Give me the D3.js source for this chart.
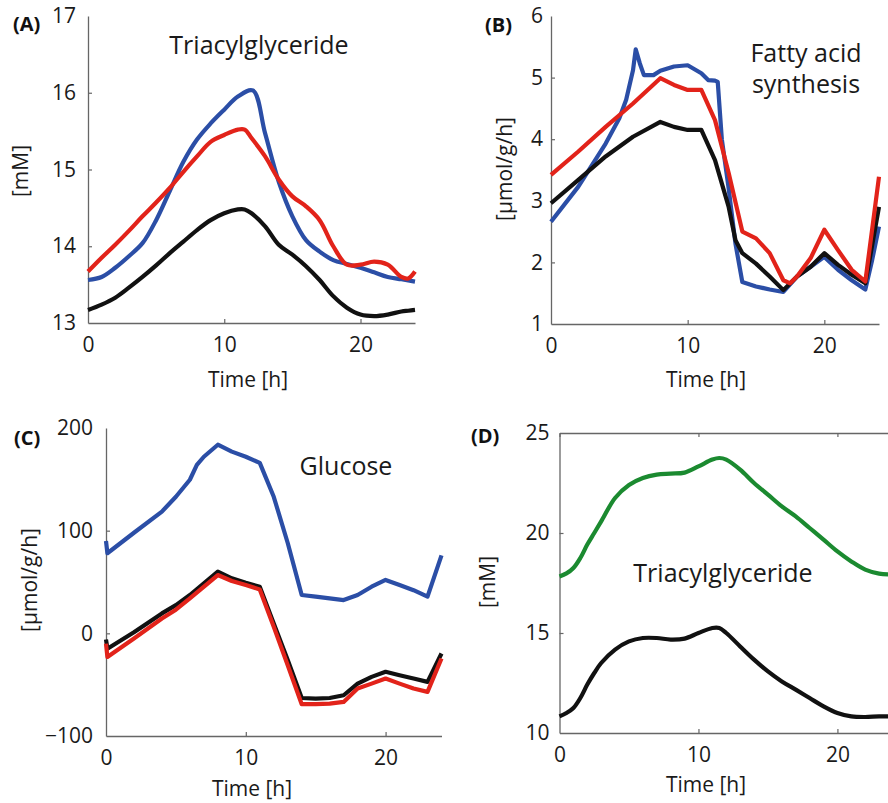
<!DOCTYPE html>
<html lang="en">
<head>
<meta charset="UTF-8">
<title>Circadian lipid panels</title>
<script src="https://d3js.org/d3.v7.min.js"></script>
<style>
  html, body { margin: 0; padding: 0; background: #fff; }
  svg { display: block; font-family: "Open Sans", sans-serif; }
</style>
</head>
<body>
<div id="chart"></div>
<script>
// ---- data ----
var xTicks = [0, 10, 20];

// (A) Triacylglyceride [mM]
var tA_blue = [0,1,2,3,4,5,6,7,8,9,10,11,12.1,13,14,15,16,17,18,19,20,21,22,23,24];
var vA_blue = [13.56,13.6,13.72,13.87,14.04,14.34,14.72,15.1,15.39,15.6,15.78,15.95,16.03,15.47,14.84,14.39,14.08,13.93,13.82,13.77,13.72,13.66,13.6,13.57,13.54];
var tA = [0,1,2,3,4,5,6,7,8,9,10,11,11.5,12,13,14,15,16,17,18,19,20,21,22,23,23.5,24];
var vA_red = [13.67,13.85,14.02,14.2,14.39,14.57,14.76,14.97,15.17,15.36,15.45,15.52,15.52,15.41,15.17,14.87,14.65,14.52,14.34,14.0,13.76,13.76,13.8,13.76,13.6,13.58,13.67];
var vA_black = [13.17,13.24,13.33,13.46,13.6,13.75,13.91,14.06,14.21,14.34,14.43,14.48,14.48,14.43,14.26,14.02,13.89,13.74,13.56,13.35,13.2,13.11,13.09,13.11,13.15,13.16,13.17];
var yTicksA = [13, 14, 15, 16, 17];

// (B) Fatty acid synthesis [umol/g/h]
var tB_blue = [0,2,4,5,5.5,6,6.2,6.5,6.8,7.5,8,9,10,11,11.5,12,12.2,12.5,13,13.5,14,15,16,17,18,19,20,21,22,23,23.5,24];
var vB_blue = [2.66,3.23,3.93,4.34,4.64,5.12,5.46,5.23,5.04,5.04,5.11,5.18,5.2,5.07,4.96,4.95,4.93,4.0,3.2,2.3,1.68,1.61,1.56,1.52,1.77,1.93,2.09,1.88,1.71,1.56,2.04,2.58];
var tB_red = [0,2,4,6,8,9,10,11,12,13,14,15,16,17,17.5,18,19,20,21,22,23,24];
var vB_red = [3.42,3.8,4.2,4.58,4.99,4.88,4.8,4.8,4.31,3.45,2.5,2.39,2.15,1.71,1.66,1.77,2.07,2.53,2.2,1.88,1.69,3.39];
var tB_black = [0,2,4,6,8,9,10,11,12,13,13.5,14,15,16,17,18,19,20,21,22,23,24];
var vB_black = [2.96,3.34,3.72,4.04,4.28,4.2,4.15,4.15,3.66,2.9,2.36,2.15,1.98,1.77,1.55,1.77,1.93,2.15,1.96,1.8,1.66,2.9];
var yTicksB = [1, 2, 3, 4, 5, 6];

// (C) Glucose [umol/g/h]
var tC_blue = [0,0.1,2,4,5,6,6.5,7,8,9,10,11,12,13,14,15,16,17,18,19,20,21,22,23,24];
var vC_blue = [90,78,98,118.6,133,149.6,164,172,183.7,177,172,166,133,88,37.3,35.7,34,32.4,37.3,45.4,52,47,42,35.7,76];
var tC = [0,0.1,2,4,5,6,8,9,10,11,12,13,14,15,16,17,18,19,20,21,22,23,24];
var vC_black = [-6,-15,1,19.4,27.5,37.3,60,53.6,49.3,45.4,9.6,-26,-63,-63.6,-63,-60.3,-49,-42.4,-37.5,-40.8,-44,-47.3,-19.6];
var vC_red = [-10,-23,-5,14.5,23,34,56.8,51,47,42.8,6.4,-31,-69,-69,-68.5,-66.8,-53.8,-49,-44,-49,-53.8,-57,-24.5];
var yTicksC = [-100, 0, 100, 200];

// (D) Triacylglyceride [mM]
var tD = [0,0.5,1,1.5,2,2.5,3,4,5,6,7,8,9,10,11,11.5,12,13,14,15,16,17,18,19,20,21,22,23,24];
var vD_green = [17.83,17.98,18.25,18.75,19.42,20.0,20.58,21.75,22.4,22.75,22.92,22.97,23.02,23.33,23.67,23.75,23.67,23.17,22.5,21.92,21.33,20.83,20.25,19.67,19.08,18.58,18.17,17.97,17.92];
var vD_black = [10.83,11.0,11.25,11.75,12.42,13.0,13.5,14.17,14.58,14.75,14.75,14.67,14.72,15.0,15.25,15.25,15.0,14.33,13.67,13.08,12.58,12.17,11.75,11.33,11.0,10.83,10.8,10.83,10.83];
var yTicksD = [10, 15, 20, 25];

var colors = { blue: '#2b4ea6', red: '#e2231a', black: '#111111', green: '#1b8a30' };

// ---- layout ----
var W = 888, H = 803;
var svg = d3.select('#chart').append('svg')
  .attr('width', W)
  .attr('height', H);

var panels = [
  { tag: '(A)', tagX: 13, tagY: 31, x0: 88, x1: 415, y0: 323, y1: 16, dom: [13, 17], ticks: yTicksA, pad: 12,
    ylabel: '[mM]', ylx: 20, yly: 171, xlx: 248, xly: 387, smooth: true,
    title: ['Triacylglyceride'], titleX: 259, titleY: 54,
    series: [[tA_blue, vA_blue, 'blue'], [tA, vA_black, 'black'], [tA, vA_red, 'red']] },
  { tag: '(B)', tagX: 485, tagY: 32, x0: 551, x1: 879, y0: 324, y1: 16, dom: [1, 6], ticks: yTicksB, pad: 8,
    ylabel: '[\u03bcmol/g/h]', ylx: 504, yly: 169, xlx: 706, xly: 387, smooth: false,
    title: ['Fatty acid', 'synthesis'], titleX: 806, titleY: 62,
    series: [[tB_blue, vB_blue, 'blue'], [tB_black, vB_black, 'black'], [tB_red, vB_red, 'red']] },
  { tag: '(C)', tagX: 14, tagY: 445, x0: 106, x1: 441.5, y0: 736, y1: 428, dom: [-100, 200], ticks: yTicksC, pad: 13,
    ylabel: '[\u03bcmol/g/h]', ylx: 29, yly: 580, xlx: 252, xly: 796, smooth: false,
    title: ['Glucose'], titleX: 346, titleY: 475,
    series: [[tC_blue, vC_blue, 'blue'], [tC, vC_black, 'black'], [tC, vC_red, 'red']] },
  { tag: '(D)', tagX: 471, tagY: 443, x0: 559.5, x1: 893, y0: 733, y1: 433, dom: [10, 25], ticks: yTicksD, pad: 10,
    ylabel: '[mM]', ylx: 487, yly: 582, xlx: 706, xly: 792, smooth: true, box: true,
    title: ['Triacylglyceride'], titleX: 723, titleY: 582,
    series: [[tD, vD_green, 'green'], [tD, vD_black, 'black']] }
];

var axisColor = '#666';
var textColor = '#1a1a1a';
var fs = 21;       // ticks + axis labels
var titleFs = 25;  // in-plot titles are set a bit bigger

panels.forEach(function(p) {
  var x = d3.scaleLinear().domain([0, 24]).range([p.x0, p.x1]);
  var y = d3.scaleLinear().domain(p.dom).range([p.y0, p.y1]);
  var g = svg.append('g');

  // axes, ticks pointing inward like matlab
  var yAxis = d3.axisLeft(y).tickValues(p.ticks)
    .tickFormat(function(d) { return d < 0 ? '\u2212' + Math.abs(d) : d; })
    .tickSizeInner(-4).tickSizeOuter(0).tickPadding(p.pad);
  var xAxis = d3.axisBottom(x).tickValues(xTicks)
    .tickSizeInner(-4).tickSizeOuter(0).tickPadding(14);

  var ya = g.append('g').attr('transform', 'translate(' + p.x0 + ',0)').call(yAxis);
  var xa = g.append('g').attr('transform', 'translate(0,' + p.y0 + ')').call(xAxis);

  if (p.box) {
    var xTop = d3.axisTop(x).tickValues(xTicks).tickSizeInner(-4).tickSizeOuter(0).tickFormat('');
    g.append('g').attr('transform', 'translate(0,' + p.y1 + ')').call(xTop);
    g.append('g').attr('transform', 'translate(' + p.x1 + ',0)')
      .call(d3.axisRight(y).tickValues(p.ticks).tickSizeInner(-4).tickSizeOuter(0).tickFormat(''));
  }

  g.selectAll('.domain').attr('stroke', axisColor).attr('stroke-width', 1.3);
  g.selectAll('.tick line').attr('stroke', axisColor).attr('stroke-width', 1.2);
  g.selectAll('.tick text').attr('fill', textColor)
    .style('font-family', '"Open Sans", sans-serif').style('font-size', fs + 'px');
  g.selectAll('g').attr('font-family', null).attr('font-size', null);
  // hide ticks at the axis ends so they don't clutter the corner
  ya.selectAll('.tick line').filter(function(d) { return d === p.dom[0] || d === p.dom[1]; }).remove();
  xa.selectAll('.tick line').filter(function(d) { return d === 0; }).remove();

  // lines
  var line = d3.line()
    .curve(p.smooth ? d3.curveCatmullRom.alpha(0.5) : d3.curveLinear)
    .x(function(d) { return x(d[0]); })
    .y(function(d) { return y(d[1]); });

  p.series.forEach(function(s) {
    var pts = d3.zip(s[0], s[1]);
    g.append('path')
      .datum(pts)
      .attr('d', line)
      .attr('fill', 'none')
      .attr('stroke', colors[s[2]])
      .attr('stroke-width', 4.2)
      .attr('stroke-linejoin', 'round');
  });

  // labels
  g.append('text')
    .attr('x', p.tagX).attr('y', p.tagY)
    .style('font-size', '20px').style('font-weight', 'bold')
    .attr('fill', '#111')
    .text(p.tag);

  g.append('text')
    .attr('transform', 'translate(' + p.ylx + ',' + p.yly + ') rotate(-90)')
    .attr('text-anchor', 'middle')
    .attr('dominant-baseline', 'central')
    .style('font-size', fs + 'px')
    .attr('fill', textColor)
    .text(p.ylabel);

  g.append('text')
    .attr('x', p.xlx).attr('y', p.xly)
    .attr('text-anchor', 'middle')
    .style('font-size', fs + 'px')
    .attr('fill', textColor)
    .text('Time [h]');

  p.title.forEach(function(t, i) {
    g.append('text')
      .attr('x', p.titleX).attr('y', p.titleY + i * 31)
      .attr('text-anchor', 'middle')
      .style('font-size', titleFs + 'px')
      .attr('fill', textColor)
      .text(t);
  });
});
</script>
</body>
</html>
